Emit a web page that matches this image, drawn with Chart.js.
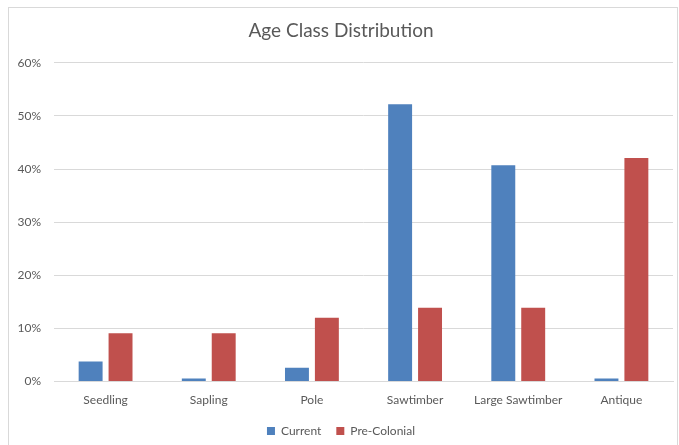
<!DOCTYPE html>
<html>
<head>
<meta charset="utf-8">
<script src="https://cdn.jsdelivr.net/npm/chart.js@4"></script>
<style>
  html, body { margin: 0; padding: 0; background: #fff; overflow: hidden; }
  #box { position: absolute; left: 8px; top: 7px; width: 668px; height: 450px; border: 1px solid #d9d9d9; background: #fff; }
  #wrap { position: absolute; left: 0; top: 0; width: 668px; height: 450px; }
</style>
</head>
<body>
<div id="box"><div id="wrap"><canvas id="chart"></canvas></div></div>
<script>
const categories = ["Seedling", "Sapling", "Pole", "Sawtimber", "Large Sawtimber", "Antique"]
const currentValues = [3.8, 0.6, 2.6, 52.2, 40.7, 0.6]
const preColonialValues = [9.1, 9.1, 12.0, 13.9, 13.9, 42.1]
const yTicks = [0, 10, 20, 30, 40, 50, 60]

const textColor = '#595959'
const font = "Lato, 'Open Sans', sans-serif"

new Chart(document.getElementById('chart'), {
  type: 'bar',
  data: {
    labels: categories,
    datasets: [{
      label: 'Current',
      data: currentValues,
      backgroundColor: '#4F81BD',
      categoryPercentage: 0.58,
      barPercentage: 0.8
    }, {
      label: 'Pre-Colonial',
      data: preColonialValues,
      backgroundColor: '#C0504D',
      categoryPercentage: 0.58,
      barPercentage: 0.8
    }]
  },
  options: {
    responsive: true,
    maintainAspectRatio: false,
    animation: false,
    layout: {
      padding: { left: 0, right: 4, top: 0, bottom: 11 }
    },
    plugins: {
      title: {
        display: true,
        text: 'Age Class Distribution',
        color: textColor,
        font: { family: font, size: 19, weight: 'normal' },
        padding: { top: 11, bottom: 21 }
      },
      legend: {
        position: 'bottom',
        labels: {
          color: textColor,
          font: { family: font, size: 12 },
          boxWidth: 8,
          boxHeight: 8,
          padding: 15
        }
      },
      tooltip: { enabled: false }
    },
    scales: {
      x: {
        grid: { display: false },
        border: { color: '#d9d9d9' },
        ticks: {
          color: textColor,
          font: { family: font, size: 12 },
          padding: 3,
          maxRotation: 0
        }
      },
      y: {
        min: 0,
        max: 60,
        afterBuildTicks: function (axis) {
          axis.ticks = yTicks.map(v => ({ value: v }))
        },
        afterFit: function (axis) {
          axis.width = 45
        },
        grid: { color: '#d9d9d9', drawTicks: false },
        border: { display: false },
        ticks: {
          color: textColor,
          font: { family: font, size: 12 },
          padding: 13,
          callback: v => v + '%'
        }
      }
    }
  }
})
</script>
</body>
</html>
